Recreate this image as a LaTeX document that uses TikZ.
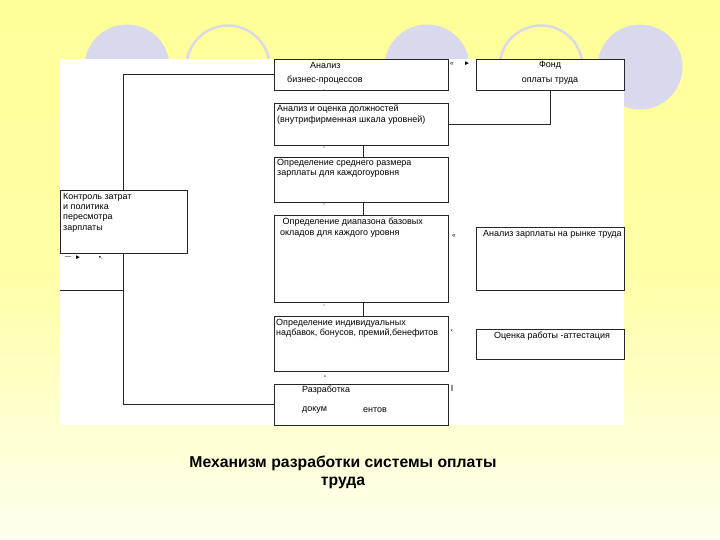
\documentclass[tikz,border=0pt]{standalone}
\usepackage{fontspec}
\setmainfont{Liberation Sans}
\usetikzlibrary{positioning}

\definecolor{slideyellow}{HTML}{FFFF99}
\definecolor{slidepale}{HTML}{FFFFF0}
\definecolor{blobfill}{HTML}{D9D9EE}
\definecolor{ringline}{HTML}{DADAE6}

\begin{document}
\begin{tikzpicture}[x=1bp, y=-1bp,
  blob/.style={circle, fill=blobfill, minimum size=85bp, inner sep=0pt},
  ring/.style={circle, draw=ringline, line width=2.5bp, minimum size=83bp, inner sep=0pt},
  stepbox/.style={draw=black!85, line width=0.6bp, fill=white, anchor=north west, inner sep=0pt},
  boxtext/.style={anchor=west, inner sep=0pt, font=\fontsize{9}{10.3}\selectfont},
  linetext/.style={anchor=north west, inner sep=0pt, align=left, font=\fontsize{9}{10.3}\selectfont},
  tinymark/.style={inner sep=0pt, font=\fontsize{6.5}{6.5}\selectfont},
  link/.style={draw=black!85, line width=0.7bp}
]

% slide background
\shade[top color=slideyellow, bottom color=slidepale, middle color=slideyellow!85!slidepale]
  (0,0) rectangle (720,540);
\useasboundingbox (0,0) rectangle (720,540);

\foreach \cx in {127,427,640} { \node[blob] at (\cx,67) {}; }
\foreach \cx in {228,541} { \node[ring] at (\cx,67) {}; }

\fill[white] (60,59) rectangle (624,425);

\def\xm{274} \def\xr{476}

% main column
\node[stepbox, minimum width=174bp, minimum height=31bp] (bproc) at (\xm,59) {};
\node[stepbox, minimum width=174bp, minimum height=42bp] (jobs) at (\xm,103) {};
\node[stepbox, minimum width=174bp, minimum height=45bp] (avgpay) at (\xm,157) {};
\node[stepbox, minimum width=174bp, minimum height=87bp] (range) at (\xm,215) {};
\node[stepbox, minimum width=174bp, minimum height=55bp] (bonus) at (\xm,316) {};
\node[stepbox, minimum width=174bp, minimum height=41bp] (docs) at (\xm,384) {};

% side boxes
\node[stepbox, minimum width=148bp, minimum height=31bp] (fund) at (\xr,59) {};
\node[stepbox, minimum width=148bp, minimum height=63bp] (market) at (\xr,227) {};
\node[stepbox, minimum width=148bp, minimum height=30bp] (attest) at (\xr,329) {};
\node[stepbox, minimum width=127bp, minimum height=63bp] (ctrl) at (60,190) {};

% texts
\node[boxtext] (bproca) at (310,65) {Анализ};
\node[boxtext] (bprocb) at (287,80) {бизнес-процессов};
\node[boxtext, anchor=center] (funda) at (550,65) {Фонд};
\node[boxtext, anchor=center] (fundb) at (550,81) {оплаты труда};
\node[linetext] (jobst) at (277,105) {Анализ и оценка должностей\\(внутрифирменная шкала уровней)};
\node[linetext] (avgpayt) at (277,159) {Определение среднего размера\\зарплаты для каждогоуровня};
\node[linetext] (ranget) at (280,218) {\ Определение диапазона базовых\\окладов для каждого уровня};
\node[linetext] (bonust) at (276,319) {Определение индивидуальных\\надбавок, бонусов, премий,бенефитов};
\node[boxtext] (docsa) at (302,390) {Разработка};
\node[boxtext] (docsb) at (302,410) {докум};
\node[boxtext] (docsc) at (363,410) {ентов};
\node[linetext] (markett) at (483,230) {Анализ зарплаты на рынке труда};
\node[boxtext, anchor=center] (attestt) at (552,336) {Оценка работы -аттестация};
\node[linetext] (ctrlt) at (63,193) {Контроль затрат\\и политика\\пересмотра\\зарплаты};

% connectors
\draw[link] (ctrl.north) |- (bproc.west);
\draw[link] (ctrl.south) |- (docs.west);
\coordinate (ctrlfoot) at (60,290);
\draw[link] (ctrlfoot) -- (ctrlfoot -| ctrl.south);
\draw[link] (fund.south) |- (jobs.east);
\foreach \a/\b in {jobs/avgpay,avgpay/range,range/bonus}
  { \draw[link] ([xshift=2bp]\a.south) -- ([xshift=2bp]\b.north); }

% leftover arrow marks
\foreach \y in {92,149,206,307} { \node[tinymark] at (324,\y) {'}; }
\node[tinymark] (m1) at (325,378) {''};
\node[tinymark] (m2) at (452,64) {«};
\node[tinymark] (m3) at (467,64) {►};
\node[tinymark] (m4) at (454,236) {«};
\node[tinymark] (m5) at (452,331) {‹};
\node[tinymark, font=\fontsize{9}{9}\selectfont] (m6) at (452,388) {I};
\node[tinymark] (m7) at (68,258) {—};
\node[tinymark] (m8) at (78,258) {►};
\node[tinymark] (m9) at (101,258) {•.};

% caption
\node[font=\bfseries\fontsize{15.8}{18.5}\selectfont, align=center] (title) at (343,472.5)
  {Механизм разработки системы оплаты\\труда};

\end{tikzpicture}
\end{document}
